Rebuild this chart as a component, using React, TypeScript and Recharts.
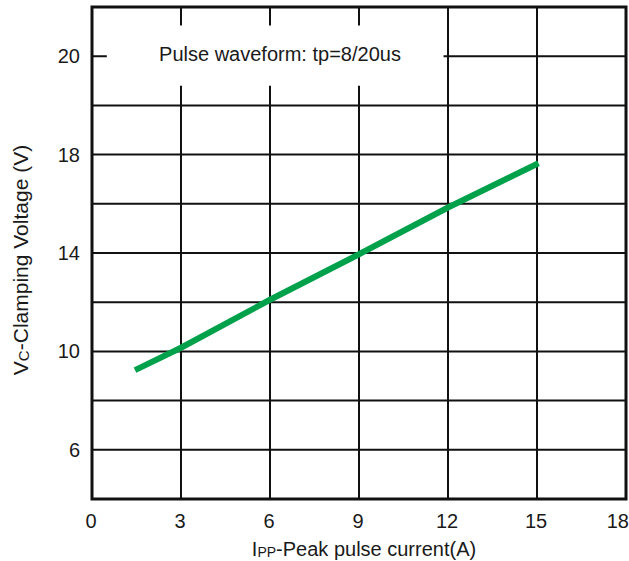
import React from 'react';
import { LineChart, Line, XAxis, YAxis, CartesianGrid, ReferenceArea, Label } from 'recharts';

const currentA = [1.45, 3, 6, 9, 12, 15.05];
const clampV = [9.24, 10.15, 12.1, 13.95, 15.85, 17.65];
const xTicks = [0, 3, 6, 9, 12, 15, 18];
const yGridValues = [6, 8, 10, 12, 14, 16, 18, 20, 22];
const yLabelValues = [6, 10, 14, 18, 22];
const yLabelTexts = ['6', '10', '14', '18', '20'];
const legendText = 'Pulse waveform: tp=8/20us';

const data = currentA.map((x, i) => ({ x, v: clampV[i] }));

const FONT = 'Liberation Sans, Arial, Helvetica, sans-serif';
const TXT = '#1a1a1a';
const FS = 20;

const XTick = (props: any) => {
  const { x, y, payload } = props;
  const v = payload.value;
  const isLast = v === 18;
  return (
    <text
      x={isLast ? 629 : x - 1}
      y={y + 29}
      textAnchor={isLast ? 'end' : 'middle'}
      fontSize={FS}
      fontFamily={FONT}
      fill={TXT}
    >
      {String(v)}
    </text>
  );
};

const YTick = (props: any) => {
  const { x, y, payload } = props;
  const idx = yLabelValues.indexOf(payload.value);
  if (idx < 0) return <g />;
  return (
    <text x={x - 12} y={y + 7} textAnchor="end" fontSize={FS} fontFamily={FONT} fill={TXT}>
      {yLabelTexts[idx]}
    </text>
  );
};

export default function App() {
  return (
    <div style={{ position: 'absolute', left: 0, top: 0, background: '#fff' }}>
      <LineChart width={629} height={561} data={data} margin={{ top: 7, right: 3, bottom: 0, left: 0 }}>
        <CartesianGrid stroke="#111" strokeWidth={2} fill="none" />
        <XAxis
          dataKey="x"
          type="number"
          domain={[0, 18]}
          ticks={xTicks}
          tickSize={0}
          tickMargin={0}
          axisLine={false}
          tickLine={false}
          height={62}
          tick={<XTick />}
          interval={0}
        >
          <Label
            content={() => (
              <text x={364} y={556} textAnchor="middle" fontSize={FS} fontFamily={FONT} fill={TXT}>
                <tspan>I</tspan>
                <tspan fontSize={14} dy={1}>PP</tspan>
                <tspan dy={-1}>-Peak pulse current(A)</tspan>
              </text>
            )}
          />
        </XAxis>
        <YAxis
          type="number"
          domain={[4, 24]}
          ticks={yGridValues}
          tickSize={0}
          tickMargin={0}
          axisLine={false}
          tickLine={false}
          width={92}
          tick={<YTick />}
          interval={0}
        >
          <Label
            content={() => (
              <text
                x={28}
                y={260}
                textAnchor="middle"
                fontSize={21}
                fontFamily={FONT}
                fill={TXT}
                transform="rotate(-90 28 260)"
              >
                <tspan>V</tspan>
                <tspan fontSize={15} dy={1}>C</tspan>
                <tspan dy={-1}>-Clamping Voltage (V)</tspan>
              </text>
            )}
          />
        </YAxis>
        <ReferenceArea
          x1={0.5}
          x2={11.85}
          y1={20.8}
          y2={23.25}
          fill="#fff"
          fillOpacity={1}
          stroke="none"
          ifOverflow="visible"
          label={(p: any) => (
            <text x={280} y={61} textAnchor="middle" fontSize={FS} fontFamily={FONT} fill={TXT}>
              {legendText}
            </text>
          )}
        />
        <Line
          dataKey="v"
          type="linear"
          stroke="#00a14b"
          strokeWidth={6}
          strokeLinecap="butt"
          dot={false}
          activeDot={false}
          isAnimationActive={false}
        />
        <ReferenceArea
          x1={0}
          x2={18}
          y1={4}
          y2={24}
          fill="none"
          fillOpacity={0}
          stroke="#111"
          strokeWidth={3}
          ifOverflow="visible"
        />
      </LineChart>
    </div>
  );
}
